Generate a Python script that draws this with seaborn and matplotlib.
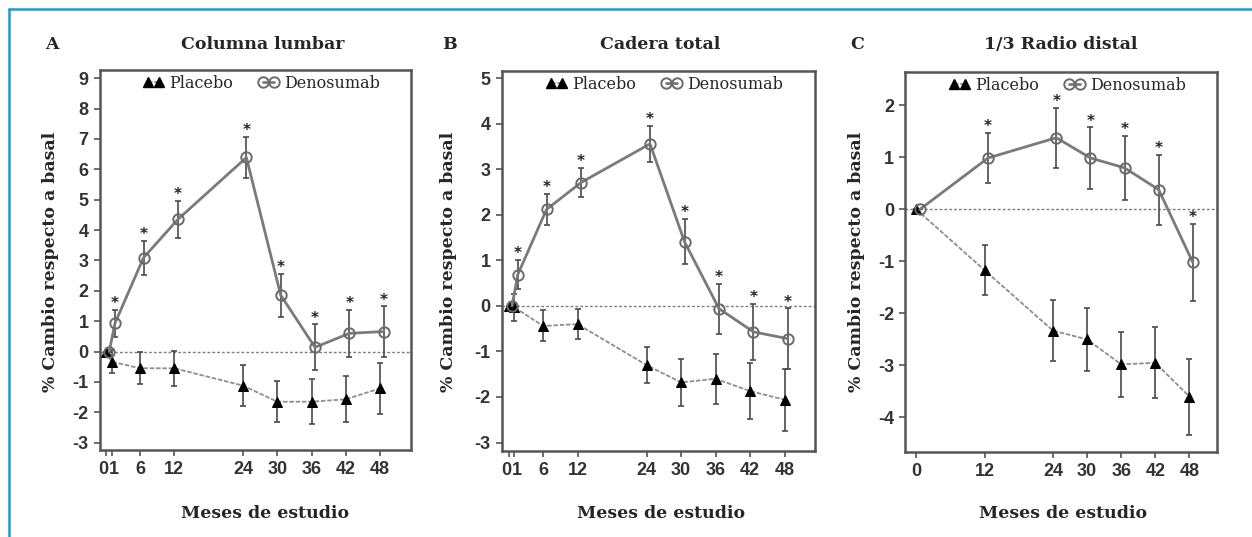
import matplotlib.pyplot as plt
import matplotlib.lines as mlines
import matplotlib.transforms as mtransforms
import numpy as np
import seaborn as sns

# -----------------------------------------------------------------
# Datos (media y error de cada punto)
# -----------------------------------------------------------------
meses_ab = [0, 1, 6, 12, 24, 30, 36, 42, 48]
etiquetas_ab = ["0", "1", "6", "12", "24", "30", "36", "42", "48"]
meses_c = [0, 12, 24, 30, 36, 42, 48]
etiquetas_c = ["0", "12", "24", "30", "36", "42", "48"]

# A: Columna lumbar
lumbar_placebo = [0, -0.33, -0.55, -0.55, -1.12, -1.65, -1.65, -1.57, -1.21]
lumbar_placebo_err = [0, 0.37, 0.52, 0.57, 0.68, 0.68, 0.74, 0.76, 0.83]
lumbar_deno = [0, 0.93, 3.09, 4.35, 6.39, 1.86, 0.14, 0.60, 0.66]
lumbar_deno_err = [0, 0.45, 0.56, 0.62, 0.69, 0.71, 0.76, 0.78, 0.83]
lumbar_sig = [False, True, True, True, True, True, True, True, True]

# B: Cadera total
cadera_placebo = [0, -0.03, -0.44, -0.40, -1.30, -1.68, -1.60, -1.87, -2.06]
cadera_placebo_err = [0, 0.30, 0.34, 0.33, 0.40, 0.51, 0.55, 0.62, 0.68]
cadera_deno = [0, 0.69, 2.12, 2.71, 3.56, 1.41, -0.06, -0.57, -0.72]
cadera_deno_err = [0, 0.32, 0.34, 0.32, 0.40, 0.50, 0.55, 0.62, 0.67]
cadera_sig = [False, True, True, True, True, True, True, True, True]

# C: 1/3 Radio distal
radio_placebo = [0, -1.17, -2.33, -2.50, -2.98, -2.95, -3.60]
radio_placebo_err = [0, 0.48, 0.58, 0.61, 0.63, 0.68, 0.73]
radio_deno = [0, 0.99, 1.38, 0.99, 0.80, 0.38, -1.02]
radio_deno_err = [0, 0.49, 0.58, 0.59, 0.62, 0.67, 0.74]
radio_sig = [False, True, True, True, True, True, True]

SERIF = "DejaVu Serif"
GRIS_DENO = "#7a7a7a"
GRIS_PLA = "#8e8e8e"
GRIS_ERR = "#4a4a4a"

sns.set_style("ticks")
plt.rcParams["font.family"] = ["Liberation Sans", "DejaVu Sans"]
plt.rcParams["axes.unicode_minus"] = False


def dibujar_panel(ax, meses, etiquetas, placebo, placebo_err, deno, deno_err, sig):
    x_pla = np.array(meses, dtype=float)
    x_den = x_pla + 0.6

    ax.axhline(0, color="#7f7f7f", linewidth=1, linestyle=(0, (2, 1.5)), zorder=1)

    ax.errorbar(x_pla, placebo, yerr=placebo_err, fmt="none", ecolor=GRIS_ERR,
                elinewidth=1.2, capsize=2.5, capthick=1.2, zorder=2)
    ax.errorbar(x_den, deno, yerr=deno_err, fmt="none", ecolor=GRIS_ERR,
                elinewidth=1.2, capsize=2.5, capthick=1.2, zorder=2)

    sns.lineplot(x=x_pla, y=placebo, ax=ax, color=GRIS_PLA, linewidth=1.3,
                 linestyle=(0, (2.5, 1)), marker="^", markersize=7,
                 markerfacecolor="black", markeredgecolor="black", legend=False, zorder=3)
    sns.lineplot(x=x_den, y=deno, ax=ax, color=GRIS_DENO, linewidth=2,
                 marker="o", markersize=7.5, markerfacecolor="none",
                 markeredgecolor="#6a6a6a", markeredgewidth=1.4, legend=False, zorder=3)

    # asteriscos de significación sobre las barras de error
    for xi, yi, ei, s in zip(x_den, deno, deno_err, sig):
        if s:
            ax.annotate("*", (xi, yi + ei), xytext=(0, -1), textcoords="offset points",
                        ha="center", va="bottom", fontsize=11, fontweight="bold",
                        color="#222222", family="DejaVu Sans")

    ax.set_xticks(meses)
    ax.set_xticklabels(etiquetas)
    ax.set_xlabel("")
    ax.set_ylabel("")
    for spine in ax.spines.values():
        spine.set_visible(True)
        spine.set_color("#555555")
        spine.set_linewidth(1.8)
    ax.tick_params(axis="both", length=4, width=1.2, color="#555555", pad=4,
                   labelsize=13, labelcolor="#333333")
    for lab in ax.get_xticklabels() + ax.get_yticklabels():
        lab.set_fontweight("bold")

    # separar un poco las etiquetas "0" y "1", que están muy juntas
    if 1 in meses:
        labs = ax.get_xticklabels()
        labs[0].set_transform(labs[0].get_transform() +
                              mtransforms.ScaledTranslation(-2.5 / 100, 0, fig.dpi_scale_trans))
        labs[1].set_transform(labs[1].get_transform() +
                              mtransforms.ScaledTranslation(2.5 / 100, 0, fig.dpi_scale_trans))

    handles = [
        mlines.Line2D([], [], color=GRIS_PLA, linewidth=1.3, linestyle=(0, (2.5, 1)),
                      marker="^", markersize=7, markerfacecolor="black",
                      markeredgecolor="black"),
        mlines.Line2D([], [], color=GRIS_DENO, linewidth=2, marker="o", markersize=7.5,
                      markerfacecolor="none", markeredgecolor="#6a6a6a",
                      markeredgewidth=1.4),
    ]
    ax.legend(handles, ["Placebo", "Denosumab"], ncol=2, numpoints=2, frameon=False,
              loc="upper center", bbox_to_anchor=(0.52, 1.025), handlelength=1.3,
              handletextpad=0.3, columnspacing=1.6,
              prop={"family": SERIF, "size": 11.5})


fig = plt.figure(figsize=(12.52, 5.37), dpi=100)
W, H = 1252, 537


def caja(x0, y0, x1, y1):
    return [x0 / W, 1 - y1 / H, (x1 - x0) / W, (y1 - y0) / H]


ax_a = fig.add_axes(caja(99.5, 70, 411, 450))
ax_b = fig.add_axes(caja(501.7, 71, 815, 450.7))
ax_c = fig.add_axes(caja(905, 71.7, 1217.3, 451.7))

dibujar_panel(ax_a, meses_ab, etiquetas_ab, lumbar_placebo, lumbar_placebo_err,
              lumbar_deno, lumbar_deno_err, lumbar_sig)
ax_a.set_xlim(-1.1, 53.4)
ax_a.set_ylim(-3.24, 9.27)
ax_a.set_yticks(range(-3, 10))

dibujar_panel(ax_b, meses_ab, etiquetas_ab, cadera_placebo, cadera_placebo_err,
              cadera_deno, cadera_deno_err, cadera_sig)
ax_b.set_xlim(-1.2, 53.3)
ax_b.set_ylim(-3.18, 5.16)
ax_b.set_yticks(range(-3, 6))

dibujar_panel(ax_c, meses_c, etiquetas_c, radio_placebo, radio_placebo_err,
              radio_deno, radio_deno_err, radio_sig)
ax_c.set_xlim(-2.0, 52.9)
ax_c.set_ylim(-4.66, 2.65)
ax_c.set_yticks(range(-4, 3))

for ax in (ax_a, ax_b, ax_c):
    for lab in ax.get_yticklabels():
        lab.set_fontweight("bold")

# textos de cada panel
paneles = [
    ("A", "Columna lumbar", 52, 263, 50.6, 264.7),
    ("B", "Cadera total", 449.6, 660, 448.6, 661),
    ("C", "1/3 Radio distal", 856.7, 1061, 856.7, 1063),
]
for letra, titulo, x_letra, x_titulo, x_ylab, x_xlab in paneles:
    fig.text(x_letra / W, 1 - 44.5 / H, letra, ha="center", va="center",
             family=SERIF, fontweight="bold", fontsize=12.5)
    fig.text(x_titulo / W, 1 - 44.5 / H, titulo, ha="center", va="center",
             family=SERIF, fontweight="bold", fontsize=12.5)
    fig.text(x_ylab / W, 1 - 262 / H, "% Cambio respecto a basal", ha="center",
             va="center", rotation=90, family=SERIF, fontweight="bold", fontsize=12.5)
    fig.text(x_xlab / W, 1 - 513.7 / H, "Meses de estudio", ha="center", va="center",
             family=SERIF, fontweight="bold", fontsize=12.5)

# marco azul del recuadro
azul = "#1a9ad6"
fig.add_artist(mlines.Line2D([8.5 / W, 1], [1 - 9 / H, 1 - 9 / H], color=azul, linewidth=1.8))
fig.add_artist(mlines.Line2D([8.5 / W, 8.5 / W], [0, 1 - 9 / H], color=azul, linewidth=1.8))

fig.savefig("out.png", dpi=100, facecolor="white")
plt.close(fig)
